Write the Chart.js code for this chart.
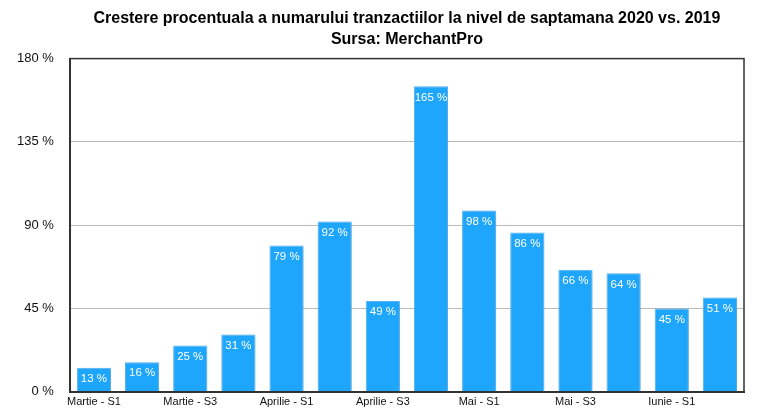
<!DOCTYPE html>
<html lang="ro">
<head>
  <meta charset="UTF-8" />
  <title>Crestere procentuala tranzactii</title>
  <script src="https://cdn.jsdelivr.net/npm/chart.js"></script>
  <style>
    html, body { margin: 0; padding: 0; background: #fff; }
    #wrap { width: 768px; height: 419px; position: relative; }
  </style>
</head>
<body>
  <div id="wrap"><canvas id="chart"></canvas></div>
  <script>
    const weeks = [
      'Martie - S1', 'Martie - S2', 'Martie - S3', 'Martie - S4',
      'Aprilie - S1', 'Aprilie - S2', 'Aprilie - S3', 'Aprilie - S4',
      'Mai - S1', 'Mai - S2', 'Mai - S3', 'Mai - S4',
      'Iunie - S1', 'Iunie - S2'
    ];
    const growth = [13, 16, 25, 31, 79, 92, 49, 165, 98, 86, 66, 64, 45, 51];
    const yTicks = [0, 45, 90, 135, 180];

    // white value labels just inside the top of each bar
    const barLabels = {
      id: 'barLabels',
      afterDatasetsDraw(chart) {
        const ctx = chart.ctx;
        const meta = chart.getDatasetMeta(0);
        ctx.save();
        ctx.fillStyle = '#ffffff';
        ctx.font = '11.5px "Liberation Sans", Arial, sans-serif';
        ctx.textAlign = 'center';
        ctx.textBaseline = 'middle';
        meta.data.forEach((bar, i) => {
          ctx.fillText(growth[i] + ' %', bar.x, bar.y + 11);
        });
        ctx.restore();
      }
    };

    // soft shadow behind bars
    const barShadow = {
      id: 'barShadow',
      beforeDatasetsDraw(chart) {
        const ctx = chart.ctx;
        ctx.save();
        ctx.shadowColor = 'rgba(0,0,0,0.18)';
        ctx.shadowBlur = 6;
        ctx.shadowOffsetX = 1;
        ctx.shadowOffsetY = 1;
      },
      afterDatasetsDraw(chart) {
        chart.ctx.restore();
      }
    };

    // frame around plot area
    const frame = {
      id: 'frame',
      afterDraw(chart) {
        const a = chart.chartArea;
        const ctx = chart.ctx;
        ctx.save();
        ctx.strokeStyle = '#333333';
        ctx.lineWidth = 1.5;
        ctx.strokeRect(a.left, a.top, a.right - a.left, a.bottom - a.top);
        ctx.restore();
      }
    };

    new Chart(document.getElementById('chart'), {
      type: 'bar',
      data: {
        labels: weeks,
        datasets: [{
          data: growth,
          backgroundColor: '#1ea5fc',
          borderColor: '#5cbcfb',
          borderWidth: 1,
          categoryPercentage: 0.71,
          barPercentage: 1.0
        }]
      },
      plugins: [barShadow, barLabels, frame],
      options: {
        responsive: true,
        maintainAspectRatio: false,
        animation: false,
        layout: { padding: { left: 1, right: 24, top: 5, bottom: 6 } },
        plugins: {
          legend: { display: false },
          tooltip: { enabled: false },
          title: {
            display: true,
            fullSize: false,
            text: ['Crestere procentuala a numarului tranzactiilor la nivel de saptamana 2020 vs. 2019', 'Sursa: MerchantPro'],
            color: '#000',
            font: { family: '"Liberation Sans", Arial, sans-serif', size: 16, weight: 'bold', lineHeight: 1.3 },
            padding: { top: 3, bottom: 9 }
          }
        },
        scales: {
          x: {
            grid: { display: false, drawTicks: false },
            border: { color: '#333333', width: 2 },
            ticks: {
              autoSkip: false,
              maxRotation: 0,
              padding: 4,
              color: '#111',
              font: { family: '"Liberation Sans", Arial, sans-serif', size: 11 },
              callback: (v, i) => (i % 2 === 0 ? weeks[i] : '')
            }
          },
          y: {
            min: yTicks[0],
            max: yTicks[yTicks.length - 1],
            afterBuildTicks: axis => { axis.ticks = yTicks.map(v => ({ value: v })); },
            grid: { color: '#bbbbbb', lineWidth: 1, drawTicks: false },
            border: { color: '#333333', width: 2 },
            ticks: {
              padding: 16,
              color: '#111',
              font: { family: '"Liberation Sans", Arial, sans-serif', size: 13 },
              callback: v => v + ' %'
            }
          }
        }
      }
    });
  </script>
</body>
</html>
